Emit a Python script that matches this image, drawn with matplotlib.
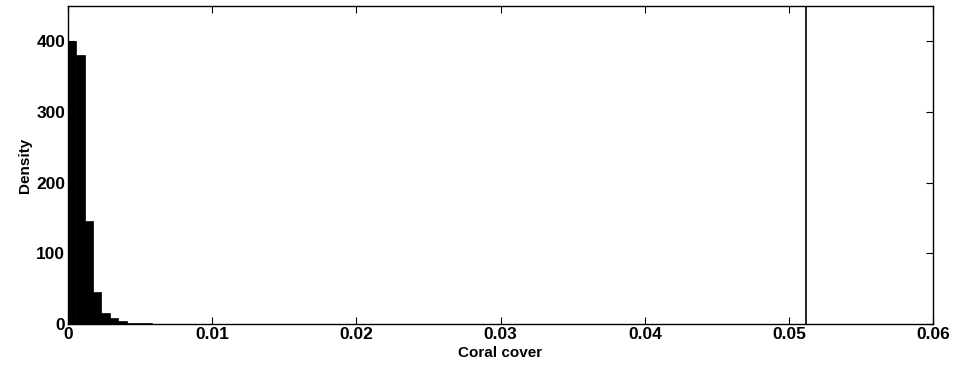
import numpy as np
import matplotlib.pyplot as plt

plt.rcParams["font.family"] = ["Liberation Sans", "DejaVu Sans"]
plt.rcParams["font.weight"] = "bold"

# Histogram of simulated coral cover (density scale)
BIN_WIDTH = 0.00058
bin_density = [400, 381, 146, 45, 16, 9, 4, 2, 1.2, 0.8, 0.5, 0.3, 0.2, 0.1]
threshold = 0.0512

x_ticks = [0, 0.01, 0.02, 0.03, 0.04, 0.05, 0.06]
x_labels = ["0", "0.01", "0.02", "0.03", "0.04", "0.05", "0.06"]
y_ticks = [0, 100, 200, 300, 400]

fig = plt.figure(figsize=(9.56, 3.74), dpi=100)
ax = fig.add_axes([0.0711, 0.1337, 0.905, 0.850])

left_edges = np.arange(len(bin_density)) * BIN_WIDTH
ax.bar(left_edges, bin_density, width=BIN_WIDTH, align="edge",
       color="black", edgecolor="black", linewidth=0.5)
ax.axvline(threshold, color="black", linewidth=1.2)

ax.set_xlim(0, 0.06)
ax.set_ylim(0, 450)
ax.set_xticks(x_ticks)
ax.set_xticklabels(x_labels)
ax.set_yticks(y_ticks)
ax.tick_params(direction="in", top=True, right=True, length=5,
               labelsize=12.5, pad=2)
for s in ax.spines.values():
    s.set_linewidth(1.0)

ax.set_xlabel("Coral cover", fontsize=11, fontweight="bold", labelpad=3)
ax.set_ylabel("Density", fontsize=11, fontweight="bold", labelpad=3)

fig.savefig("out.png", dpi=100)
